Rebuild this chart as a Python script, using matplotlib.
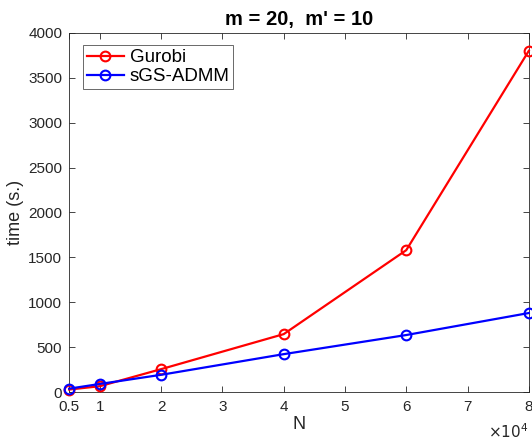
import numpy as np
import matplotlib
matplotlib.use("Agg")
import matplotlib.pyplot as plt

# N in units of 1e4
N = [0.5, 1, 2, 4, 6, 8]
gurobi = [28, 65, 255, 645, 1580, 3800]
sgs_admm = [38, 90, 192, 422, 635, 880]
xticks = [0.5, 1, 2, 3, 4, 5, 6, 7, 8]
xticklabels = ["0.5", "1", "2", "3", "4", "5", "6", "7", "8"]
yticks = np.arange(0, 4001, 500)

plt.rcParams['font.family'] = ['Liberation Sans', 'DejaVu Sans']
fig = plt.figure(figsize=(5.32, 4.44), dpi=100)
ax = fig.add_axes([0.130, 0.117, 0.864, 0.809])

ax.plot(N, gurobi, color='#ff0000', lw=1.6, marker='o', ms=7, mfc='none', mew=1.5,
        label='Gurobi', clip_on=False, zorder=3)
ax.plot(N, sgs_admm, color='#0000ff', lw=1.6, marker='o', ms=7, mfc='none', mew=1.5,
        label='sGS-ADMM', clip_on=False, zorder=4)

ax.set_xlim(0.5, 8)
ax.set_ylim(0, 4000)
ax.set_xticks(xticks)
ax.set_xticklabels(xticklabels)
ax.set_yticks(yticks)
ax.tick_params(direction='in', top=True, right=True, length=4, width=0.6,
               labelsize=11, colors='#262626')
ax.tick_params(axis='x', pad=6)
ax.tick_params(axis='y', pad=5)
for s in ax.spines.values():
    s.set_linewidth(0.6)
    s.set_color('#262626')

ax.set_xlabel('N', fontsize=13, color='#262626', labelpad=1)
ax.set_ylabel('time (s.)', fontsize=13, color='#262626', labelpad=3)
ax.set_title("m = 20,  m' = 10", fontsize=14.5, fontweight='bold', pad=6)
ax.text(1.0, -0.085, r'$\times10^4$', transform=ax.transAxes, ha='right', va='top',
        fontsize=11, color='#262626')

leg = ax.legend(loc='upper left', bbox_to_anchor=(0.03, 0.965), fontsize=13.5,
                frameon=True, fancybox=False, edgecolor='#262626', handlelength=2.0,
                handletextpad=0.3, borderpad=0.2, labelspacing=0.1, borderaxespad=0)
leg.get_frame().set_linewidth(0.6)

fig.savefig('out.png', dpi=100)
